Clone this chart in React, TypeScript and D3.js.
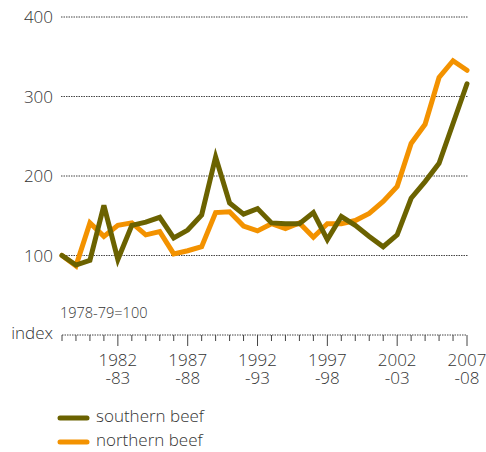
import React, { useRef, useEffect } from "react";
import * as d3 from "d3";

// financial years, starting year of each (1978-79 ... 2007-08)
const years = d3.range(1978, 2008);

const southernBeef = [
  100, 88, 94, 163, 95, 138, 142, 148, 122, 132,
  151, 224, 166, 152, 159, 141, 140, 140, 154, 120,
  149, 138, 124, 111, 126, 172, 193, 216, 266, 316,
];

const northernBeef = [
  100, 87, 141, 124, 138, 141, 126, 130, 102, 106,
  111, 154, 155, 137, 131, 140, 134, 141, 123, 140,
  140, 144, 153, 168, 187, 241, 265, 324, 345, 333,
];

const yTicks = [100, 200, 300, 400];
const labelYears = [1982, 1987, 1992, 1997, 2002, 2007];

const series = [
  { name: "southern beef", values: southernBeef, color: "#6b6200" },
  { name: "northern beef", values: northernBeef, color: "#f39200" },
];

export default function App() {
  const svgRef = useRef<SVGSVGElement>(null);

  useEffect(() => {
    const width = 486;
    const height = 452;
    const marginLeft = 62;
    const marginRight = 19;
    const axisY = 335;
    const top = 17;
    const font = "'Open Sans', 'Noto Sans', sans-serif";
    const weight = 300;
    const textColor = "#333";

    const svg = d3.select(svgRef.current)
      .attr("width", width)
      .attr("height", height)
      .attr("viewBox", [0, 0, width, height].join(" "));
    svg.selectAll("*").remove();

    const x = d3.scaleLinear()
      .domain([1978, 2007])
      .range([marginLeft, width - marginRight]);

    const y = d3.scaleLinear()
      .domain([0, 400])
      .range([axisY, top]);

    // gridlines + y labels
    const grid = svg.append("g");
    grid.selectAll("line")
      .data(yTicks)
      .join("line")
        .attr("x1", 61)
        .attr("x2", 468)
        .attr("y1", d => y(d))
        .attr("y2", d => y(d))
        .attr("stroke", "#444")
        .attr("stroke-width", 1)
        .attr("stroke-dasharray", "1.5,1");
    grid.selectAll("text")
      .data(yTicks)
      .join("text")
        .attr("x", 53)
        .attr("y", d => y(d) + 6)
        .attr("text-anchor", "end")
        .attr("font-family", font)
        .attr("font-weight", weight)
        .attr("font-size", 17)
        .attr("fill", textColor)
        .text(d => d);

    // x axis
    const xAxis = svg.append("g");
    xAxis.append("line")
      .attr("x1", x(1978))
      .attr("x2", x(2007))
      .attr("y1", axisY)
      .attr("y2", axisY)
      .attr("stroke", "#444")
      .attr("stroke-dasharray", "1.5,1");
    xAxis.selectAll("line.tick")
      .data(years)
      .join("line")
        .attr("class", "tick")
        .attr("x1", d => x(d))
        .attr("x2", d => x(d))
        .attr("y1", axisY)
        .attr("y2", d => axisY + (labelYears.includes(d) ? 11 : 6))
        .attr("stroke", "#444")
        .attr("stroke-width", 1);
    const labels = xAxis.selectAll("g.lbl")
      .data(labelYears)
      .join("g")
        .attr("class", "lbl")
        .attr("text-anchor", "middle")
        .attr("font-family", font)
        .attr("font-weight", weight)
        .attr("font-size", 17)
        .attr("fill", textColor);
    labels.append("text")
      .attr("x", d => x(d))
      .attr("y", 366)
      .text(d => d);
    labels.append("text")
      .attr("x", d => x(d))
      .attr("y", 384)
      .text(d => "-" + String((d + 1) % 100).padStart(2, "0"));

    svg.append("text")
      .attr("x", 53)
      .attr("y", 339)
      .attr("text-anchor", "end")
      .attr("font-family", font)
      .attr("font-weight", weight)
      .attr("font-size", 17)
      .attr("fill", textColor)
      .text("index");
    svg.append("text")
      .attr("x", 60)
      .attr("y", 318)
      .attr("font-family", font)
      .attr("font-weight", weight)
      .attr("font-size", 14.5)
      .attr("fill", textColor)
      .text("1978-79=100");

    // lines
    const line = d3.line<number>()
      .x((_, i) => x(years[i]))
      .y(d => y(d));

    svg.append("g")
      .selectAll("path")
      .data([...series].reverse())
      .join("path")
        .attr("d", d => line(d.values))
        .attr("fill", "none")
        .attr("stroke", d => d.color)
        .attr("stroke-width", 5)
        .attr("stroke-linejoin", "miter")
        .attr("stroke-linecap", "round");

    // legend
    const legend = svg.append("g")
      .selectAll("g")
      .data(series)
      .join("g")
        .attr("transform", (_, i) => `translate(0,${418 + i * 24})`);
    legend.append("line")
      .attr("x1", 60)
      .attr("x2", 87)
      .attr("stroke", d => d.color)
      .attr("stroke-width", 5)
      .attr("stroke-linecap", "round");
    legend.append("text")
      .attr("x", 96)
      .attr("y", 4)
      .attr("font-family", font)
      .attr("font-weight", weight)
      .attr("font-size", 17)
      .attr("fill", textColor)
      .text(d => d.name);
  }, []);

  return (
    <div style={{ position: "absolute", left: 0, top: 0 }}>
      <svg ref={svgRef} style={{ display: "block" }}></svg>
    </div>
  );
}
